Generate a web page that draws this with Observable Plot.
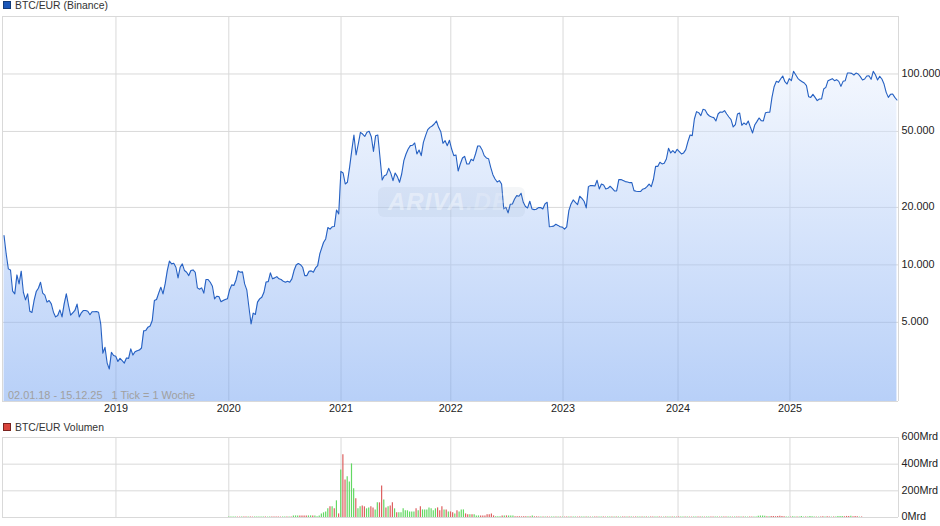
<!DOCTYPE html>
<html><head><meta charset="utf-8">
<script src="https://cdn.jsdelivr.net/npm/d3@7"></script>
<script src="https://cdn.jsdelivr.net/npm/@observablehq/plot@0.6"></script>
<style>
html,body{margin:0;padding:0;background:#fff;overflow:hidden}
#wrap{position:relative;width:940px;height:526px;font:10.4px "Liberation Sans",Arial,sans-serif;color:#222}
#main,#vol{position:absolute;left:0}
#main{top:0}#vol{top:413px}
.lg{position:absolute;left:15px;white-space:nowrap;color:#333}
.sw{position:absolute;left:3px;width:6px;height:6px;border:1px solid #123a78}
#range{position:absolute;left:8px;top:389px;color:#a0a0a0;font-size:10.9px;white-space:pre}
#mark{position:absolute;left:378px;top:187px;width:147px;height:30px;border-radius:6px;background:rgba(120,135,165,.08);overflow:hidden;font:italic bold 24px "Liberation Sans",Arial,sans-serif;color:rgba(255,255,255,.4);line-height:30px;padding-left:10px;box-sizing:border-box;letter-spacing:1px}
#mark span{color:rgba(255,255,255,.2)}
svg text{font-family:"Liberation Sans",Arial,sans-serif}
</style></head><body>
<div id="wrap">
<div id="main"></div><div id="vol"></div>
<div class="sw" style="top:1px;background:#1a56b8"></div><div class="lg" style="top:0">BTC/EUR (Binance)</div>
<div class="sw" style="top:423px;left:3px;background:#d9443c;border-color:#7a2320"></div><div class="lg" style="top:422px">BTC/EUR Volumen</div>
<div id="mark">ARIVA<span>.DE</span></div>
<div id="range">02.01.18 - 15.12.25   1 Tick = 1 Woche</div>
</div>
<script>
// Weekly BTC/EUR closes
const prices2018to2020 = [14240,11410,9530,9410,7280,7050,8860,7950,9270,7190,6560,7050,5720,5630,6510,7250,7550,8110,7110,6940,6380,6510,6250,5650,5340,5430,5810,5340,6250,7050,6130,5450,5610,5770,6230,5340,5610,5770,5770,5720,5480,5680,5680,5700,5650,4910,3450,3700,3060,2850,3480,3350,3320,3120,3240,3150,3060,3250,3240,3630,3370,3510,3550,3580,3670,4510,4530,4720,4780,5110,6510,6590,7110,7640,7050,7950,9340,10460,10120,10200,9720,8550,9720,10120,9340,9150,8790,9340,9410,9150,7580,7460,7580,7110,8380,8380,8110,7730,6640,6850,6830,6410,6510,6590,6640,7400,7860,7800,8340,9300,9150,9190,7950,7400,6000,4910,5590,5500,6380,6640,6770,7190,8140,8170,9080,8450,8550,8680,8450,8380,8200,8110,8200,8110,8450,9340,9990,10160,10030,9720,8790,8790,9270,9300,9150,9640,9920,11410];
const prices2020to2023 = [12100,13100,13670,15700,15400,15830,15890,19400,18490,30900,30300,26540,27080,32440,39650,47900,37640,42980,49470,48470,47100,49470,50070,46930,39330,47510,47900,36590,27860,29340,29690,32050,30160,27630,30300,29000,27080,29930,35150,38090,40450,42120,42290,43500,38090,39970,37340,43860,47510,51070,52530,53390,54690,56690,52530,49870,43330,44740,42120,44920,40450,37340,37640,31030,33760,36300,37040,33760,33760,35720,35150,38090,41950,41950,40130,37340,36300,36010,32440,29690,28190,27180,27630,26540,19640,20040,18720,20770,20860,22150,23060,22880,23720,21280,20200,19880,21540,19640,19480,19560,19960,19960,19640,20860,21280,15830,15890,15960,16320,16100,15830,15770,15400,15830,19250,20860,21890,21280,20690,22880,22320,21540,19880,25700,26020,26020,25900,27750,25000,26540,26230,25000,25190,25810,25190,24400,24400,27980,27980,27630,27300,27180,26960,26960,24490,24300,24220,24220];
const prices2023to2025 = [24900,25100,25700,26490,25700,28100,32800,32800,34490,33800,34070,35860,40830,38590,39680,38590,40300,39200,38120,38590,40150,44220,47920,47540,58110,63500,62700,60490,65300,64770,61710,60250,59530,59060,56740,61710,63240,62990,64240,61710,59530,57640,52770,54270,61710,62450,53840,55370,54270,56740,52560,49100,54050,56290,58830,56960,56740,62700,62990,62990,75410,85800,91490,90410,94110,97560,91120,88590,94500,92240,103200,99150,94890,92610,91120,89660,86830,76030,75410,78240,75410,72480,73930,73930,83430,85110,92240,93380,94500,92240,93380,91490,86130,91490,92240,101100,101100,100700,98780,101100,99950,96800,93000,94110,97560,97950,93750,103200,99150,93000,97180,94110,88590,80100,75410,78240,78550,75410,73060];
// Date span of each array above
const segmentSpans = [["2018-01-02","2020-10-25"],["2020-10-30","2023-09-03"],["2023-09-10","2025-12-15"]];

// Weekly volume in Mrd from January 2020; a negative number is a down week (red)
const volumeStart = "2020-01-03";
const volumes = [3,3,3,3,-3,-3,3,-3,-3,3,-3,-3,3,3,3,3,3,-3,3,3,-3,-3,-3,-3,-3,3,3,-3,3,-3,
12,12,12,-12,-12,-12,-12,12,12,-12,12,5,12,27,35,42,65,-80,80,-65,125,-27,357,-470,-282,305,267,402,215,-140,65,80,-87,-80,65,72,-80,-72,57,110,-110,-237,132,-72,80,-87,-110,65,-35,35,35,65,50,50,42,42,42,-65,50,-80,57,57,57,72,65,50,65,-72,-50,-80,57,-57,42,-42,-35,27,-50,42,57,57,-27,-20,20,-20,20,12,12,-12,-12,-12,-20,-20,-27,-12,5,5,5,-12,12,-12,12,12,12,-5,-5,-5,-5,-5,-5,5,-5,12,-5,-5,
-4,4,-3,3,-3,-3,3,3,-3,4,-3,3,-3,-3,3,-4,3,3,-3,-3,3,3,-3,4,-3,3,-3,-3,3,3,-3,-3,3,3,-3,4,-3,3,3,-3,-3,3,-3,3,-3,-3,3,4,-3,3,-3,3,-3,-3,3,3,-3,-3,3,-3,3,3,-3,3,-3,-3,3,4,-3,3,-3,-3,3,3,-3,-3,3,-3,3,3,-3,-3,3,3,-3,3,-3,-4,3,3,-3,3,-3,-3,3,-3,3,3,-3,-3,3,3,10,11,11,10,-6,5,-8,-8,-6,-8,-9,-8,-5,4,3,-3,5,3,-3,3,7,3,-3,3,7,5,3,-3,3,-3,-6,3,-5,-4,3,-3,3,8,7,8,-6,-8,-7,9,-6,-8,-5,3,-3];

const yearLabels = [2019,2020,2021,2022,2023,2024,2025];
const yearTickDates = ["2019-01-01","2020-01-03","2021-01-02","2021-12-25","2022-12-25","2024-01-03","2025-01-01"];
const xDomain = ["2017-12-28","2025-12-20"];
const priceDomain = [1925,200000];
const priceTicks = [5000,10000,20000,50000,100000];
const volumeTicks = [0,200,400,600];

const D = s => new Date(s + "T00:00:00Z");
const spread = (vals, [a,b]) => vals.map((price,i) => ({date:new Date(+D(a)+(+D(b)-+D(a))*i/(vals.length-1)), price}));
const series = [prices2018to2020,prices2020to2023,prices2023to2025].flatMap((v,i)=>spread(v,segmentSpans[i]));
const yearTicks = yearTickDates.map(D);
const volData = volumes.map((v,i)=>({date:d3.utcDay.offset(D(volumeStart),i*7),vol:Math.abs(v),up:v>0}));
const xD = xDomain.map(D);
const GRID = {stroke:"#d9d9d9",strokeWidth:1};
const dotted = d => d3.format(",")(d).replace(/,/g,".");
const gradient = () => {
  const g = document.createElementNS("http://www.w3.org/2000/svg","g");
  g.innerHTML = '<defs><linearGradient id="fillg" x1="0" y1="0" x2="0" y2="1"><stop offset="0" stop-color="#e7effd"/><stop offset="1" stop-color="#71a1f1"/></linearGradient></defs>';
  return g;
};
const main = Plot.plot({
  width:940,height:425,marginLeft:2,marginRight:42,marginTop:16,marginBottom:24,
  style:{fontSize:"10.8px",background:"transparent",color:"#222"},
  x:{type:"utc",domain:xD,axis:null},
  y:{type:"log",domain:priceDomain,axis:null},
  marks:[
    gradient,
    Plot.ruleY(priceTicks.concat(priceDomain),GRID),
    Plot.ruleX(yearTicks.concat(xD),GRID),
    Plot.areaY(series,{x:"date",y1:priceDomain[0],y2:"price",fill:"url(#fillg)",fillOpacity:0.5}),
    Plot.lineY(series,{x:"date",y:"price",stroke:"#2560c2",strokeWidth:1.1,curve:"linear"}),
    Plot.axisY(priceTicks,{anchor:"right",tickSize:0,tickPadding:3,dy:-0.5,tickFormat:dotted,label:null,fill:"#222"}),
    Plot.text(yearTicks,{x:d=>d,frameAnchor:"bottom",dy:7,text:(d,i)=>String(yearLabels[i]),fill:"#222",lineAnchor:"middle"})
  ]
});
document.getElementById("main").append(main);
const vol = Plot.plot({
  width:940,height:113,marginLeft:2,marginRight:42,marginTop:24,marginBottom:9,
  style:{fontSize:"10.8px",background:"transparent",color:"#222"},
  x:{type:"utc",domain:xD,axis:null},
  y:{domain:[0,600],axis:null},
  marks:[
    Plot.ruleY(volumeTicks,GRID),
    Plot.ruleX(yearTicks.concat(xD),GRID),
    Plot.ruleX(volData,{x:"date",y1:0,y2:"vol",stroke:d=>d.up?"#63d863":"#dd5f5f",strokeWidth:1.2}),
    Plot.axisY(volumeTicks,{anchor:"right",tickSize:0,tickPadding:3,dy:-0.5,tickFormat:d=>d+"Mrd",label:null,fill:"#222"})
  ]
});
document.getElementById("vol").append(vol);
</script></body></html>
